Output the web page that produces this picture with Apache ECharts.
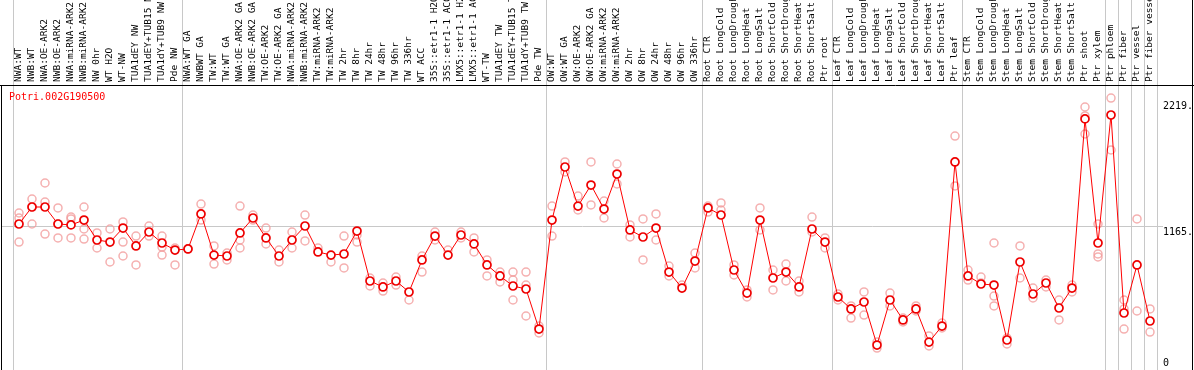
<!DOCTYPE html>
<html><head><meta charset="utf-8">
<script src="https://cdn.jsdelivr.net/npm/echarts@6/dist/echarts.min.js"></script>
<style>html,body{margin:0;padding:0;background:#fff}#c{width:1194px;height:370px}</style>
</head><body><div id="c"></div>
<script>
const geneId = 'Potri.002G190500';
const categories = [
"NWA:WT","NWB:WT","NWA:OE-ARK2","NWB:OE-ARK2","NWA:miRNA-ARK2","NWB:miRNA-ARK2","NW 0hr","WT H2O","WT-NW","TUA1dEY NW","TUA1dEY+TUB15 NW","TUA1dY+TUB9 NW","Pde NW",
"NWA:WT GA","NWBWT GA","TW:WT","TW:WT GA","NWA:OE-ARK2 GA","NWB:OE-ARK2 GA","TW:OE-ARK2","TW:OE-ARK2 GA","NWA:miRNA-ARK2","NWB:miRNA-ARK2","TW:miRNA-ARK2","TW:miRNA-ARK2","TW 2hr","TW 8hr","TW 24hr","TW 48hr","TW 96hr","TW 336hr","WT ACC","35S::etr1-1 H2O","35S::etr1-1 ACC","LMX5::etr1-1 H2O","LMX5::etr1-1 ACC","WT-TW","TUA1dEY TW","TUA1dEY+TUB15 TW","TUA1dY+TUB9 TW","Pde TW",
"OW:WT","OW:WT GA","OW:OE-ARK2","OW:OE-ARK2 GA","OW:miRNA-ARK2","OW:miRNA-ARK2","OW 2hr","OW 8hr","OW 24hr","OW 48hr","OW 96hr","OW 336hr",
"Root CTR","Root LongCold","Root LongDrought","Root LongHeat","Root LongSalt","Root ShortCold","Root ShortDrought","Root ShortHeat","Root ShortSalt","Ptr root",
"Leaf CTR","Leaf LongCold","Leaf LongDrought","Leaf LongHeat","Leaf LongSalt","Leaf ShortCold","Leaf ShortDrought","Leaf ShortHeat","Leaf ShortSalt","Ptr leaf",
"Stem CTR","Stem LongCold","Stem LongDrought","Stem LongHeat","Stem LongSalt","Stem ShortCold","Stem ShortDrought","Stem ShortHeat","Stem ShortSalt","Ptr shoot","Ptr xylem",
"Ptr phloem","Ptr fiber","Ptr vessel","Ptr fiber vessel"];
const groupSizes = [13,28,12,10,10,11,1,1,1,1];
const means = [
1180,1322,1322,1180,1172,1213,1046,1029,1146,996,1113,1021,962,
971,1264,920,912,1105,1230,1063,912,1046,1163,946,920,929,1121,703,653,703,611,879,1079,920,1088,1013,837,745,661,636,301,
1213,1657,1330,1506,1305,1598,1130,1071,1146,778,644,870,
1314,1255,795,602,1213,728,778,653,1138,1029,
569,469,527,167,544,377,469,192,326,1699,
745,678,669,209,862,594,686,477,644,2059,1021,
2092,435,837,368];
const replicates = [
[1272,1230,1029],[1389,1180,1322],[1523,1364,1096],[1314,1063,1180],[1238,1222,1063],[1322,1138,1054],[1105,979],[1138,862],[1197,1029,912],[1079,837],[1163,1079],[1079,987,920],[979,837],
[971],[1347,1213],[996,845],[937,879],[1330,1046,979],[1255,1213],[1146,1013],[962,862],[1113,979],[1255,1038],[979],[862],[1079,812],[1088,1029],[728,661],[686,619],[736,669],[544],[912,778],[1113,1046],[962],[1113,1063],[1063,946],[879,745],[778,695],[778,711,544],[778,669,410],[326,268],
[1330,1079],[1699,1615],[1414,1297],[1699,1339],[1372,1230],[1682,1515],[1172,1071],[1222,879],[1264,1046],[828,745],[669],[937,812],
[1330,1280],[1356,1297],[837,753],[628,569],[1314,1130],[795,628],[845,703],[703,611],[1238,1113],[1063,979],
[594,544],[494,393],[611,418],[192,142],[602,494],[393,360],[494,452],[243,159],[351,310],[1916,1498],
[795,711],[736,686],[1021,577,494],[226,176],[996,728],[644,561],[711,653],[544,377],[669,611],[2159,2084,1933],[1180,929,904],
[2234,1799],[544,469,301],[1222,452],[469,276]];
const yTickValues = [0,1165,2219];
const yTickLabels = ['0','1165.','2219.'];
const gridValues = [1165];

const repData = [];
replicates.forEach((arr,i)=>arr.forEach(v=>repData.push([i,v])));

const MONO = 'DejaVu Sans Mono';
const chart = echarts.init(document.getElementById('c'), null, {renderer:'canvas'});
chart.setOption({
  animation:false,
  title:{text:geneId,left:4,top:87,textStyle:{color:'#ff0000',fontSize:10,fontFamily:MONO,fontWeight:'normal'}},
  grid:{left:12.5,width:1144,top:85,bottom:5,containLabel:false,outerBoundsMode:'none'},
  xAxis:[{type:'category',data:categories,position:'top',boundaryGap:true,
    axisLine:{show:false},axisTick:{show:false},splitLine:{show:false},
    axisLabel:{interval:0,rotate:90,margin:3,fontSize:9.5,fontFamily:MONO,color:'#000',hideOverlap:false}},
    {type:'value',min:0,max:categories.length,show:false}],
  yAxis:{type:'value',min:0,max:2343,position:'right',axisLine:{show:false},axisTick:{show:false},axisLabel:{show:false},splitLine:{show:false}},
  series:[
    {type:'scatter',data:repData,symbol:'circle',symbolSize:8,z:2,
     itemStyle:{color:'rgba(255,255,255,0)',borderColor:'#f29c9c',borderWidth:1.5}},
    {type:'line',data:means,symbol:'circle',symbolSize:8,showAllSymbol:true,z:3,
     lineStyle:{color:'#ff0000',width:1},
     itemStyle:{color:'#ffffff',borderColor:'#ee0000',borderWidth:1.7}}
  ]
});

const g = [];
g.push({type:'line',shape:{x1:0,y1:85.5,x2:1194,y2:85.5},style:{stroke:'#000',lineWidth:1},z:10});
g.push({type:'line',shape:{x1:1.5,y1:85,x2:1.5,y2:370},style:{stroke:'#000',lineWidth:1},z:10});
g.push({type:'line',shape:{x1:1192.5,y1:0,x2:1192.5,y2:370},style:{stroke:'#000',lineWidth:1},z:10});
let b = 0; const bounds=[0];
groupSizes.forEach(s=>{b+=s;bounds.push(b);});
bounds.forEach(v=>{
  const x = Math.round(chart.convertToPixel({xAxisIndex:1},v))+0.5;
  g.push({type:'line',shape:{x1:x,y1:0,x2:x,y2:370},style:{stroke:'#c8c8c8',lineWidth:1},z:-1});
});
gridValues.forEach(v=>{
  const y = Math.round(chart.convertToPixel({yAxisIndex:0},v))+0.5;
  g.push({type:'line',shape:{x1:2,y1:y,x2:1163,y2:y},style:{stroke:'#c8c8c8',lineWidth:1},z:-1});
});
yTickValues.forEach((v,i)=>{
  const y = chart.convertToPixel({yAxisIndex:0},v);
  const bottom = y+12>370;
  g.push({type:'text',x:1163,y:bottom?368:y+2,style:{text:yTickLabels[i],fill:'#000',font:'10px '+MONO,textAlign:'left',textVerticalAlign:bottom?'bottom':'top'},z:10});
});
chart.setOption({graphic:g});
</script></body></html>
